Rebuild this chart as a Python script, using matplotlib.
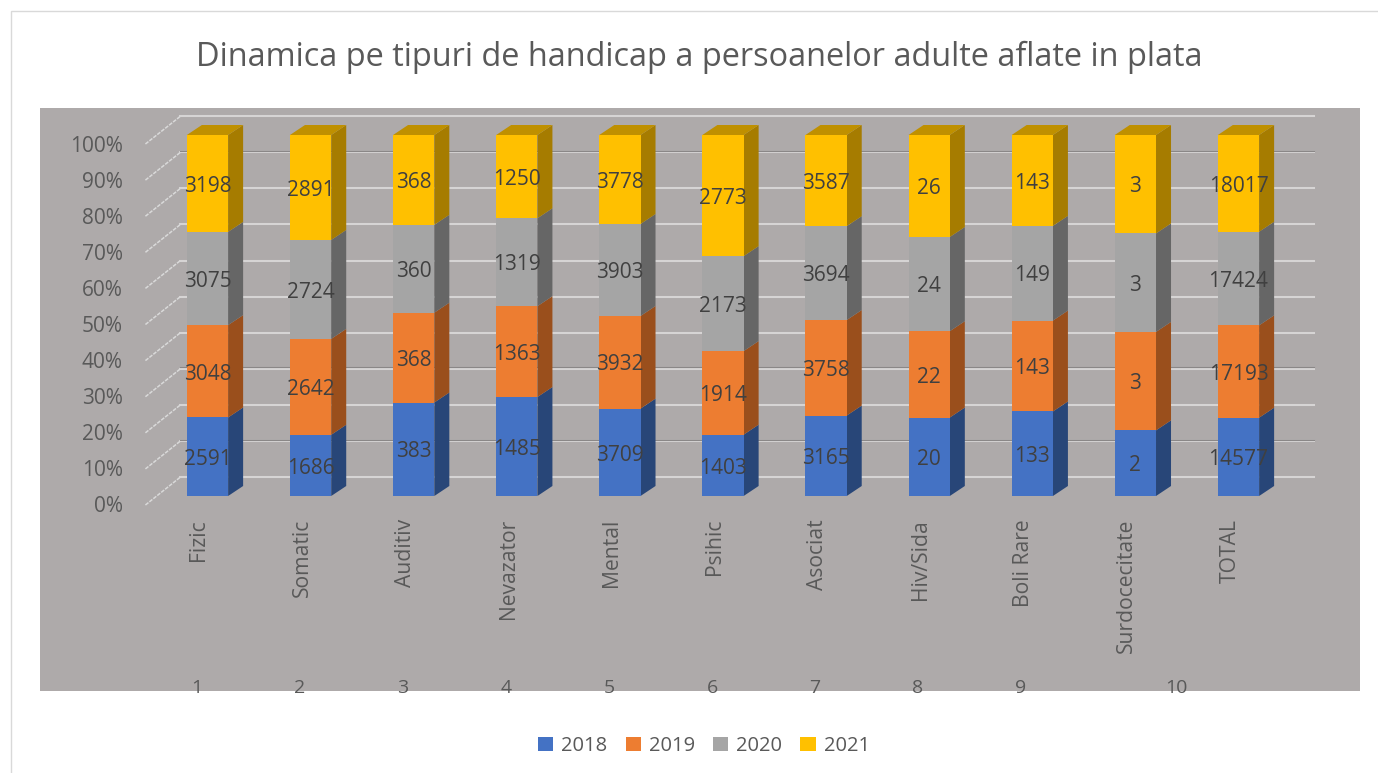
#!/usr/bin/env python3
# -*- coding: utf-8 -*-
import matplotlib
matplotlib.use("Agg")
import matplotlib.pyplot as plt
from matplotlib.patches import Polygon, Rectangle
import numpy as np

plt.rcParams["font.family"] = ["Open Sans", "DejaVu Sans"]

categorii = ["Fizic", "Somatic", "Auditiv", "Nevazator", "Mental", "Psihic",
             "Asociat", "Hiv/Sida", "Boli Rare", "Surdocecitate", "TOTAL"]
ani = ["2018", "2019", "2020", "2021"]
v2018 = [2591, 1686, 383, 1485, 3709, 1403, 3165, 20, 133, 2, 14577]
v2019 = [3048, 2642, 368, 1363, 3932, 1914, 3758, 22, 143, 3, 17193]
v2020 = [3075, 2724, 360, 1319, 3903, 2173, 3694, 24, 149, 3, 17424]
v2021 = [3198, 2891, 368, 1250, 3778, 2773, 3587, 26, 143, 3, 18017]
numere = ["1", "2", "3", "4", "5", "6", "7", "8", "9", "10"]
numere_x = [197, 300, 403, 506, 609, 712, 815, 918, 1021, 1176]
procente = list(range(0, 101, 10))
linii_inchise = [10, 30, 90]

culori = ["#4472C4", "#ED7D31", "#A5A5A5", "#FFC000"]
culori_lat = ["#284678", "#9A4F1C", "#666666", "#A67C00"]
culoare_sus = "#BF9000"
fundal = "#AEAAAA"
text_gri = "#595959"
W, H = 1378, 773

fig = plt.figure(figsize=(W / 100, H / 100), dpi=100, facecolor="white")
fig.add_artist(Rectangle((11 / W, -0.01), 1.1, 1 - 11 / H + 0.01, transform=fig.transFigure,
                         fc="none", ec="#D9D9D9", lw=1))

# zona graficului, x si y alese ca bara 0 sa pice la px 207.5 si 0% la px 496
ax = fig.add_axes([40 / W, 1 - 691 / H, 1320 / W, 583 / H], facecolor=fundal)
ax.set_xlim((40 - 207.5) / 103.1, (1360 - 207.5) / 103.1)
ax.set_ylim((496 - 691) / 3.61, (496 - 108) / 3.61)
for s in ax.spines.values():
    s.set_visible(False)
ax.set_xticks([])
ax.set_yticks([])

dx = 15 / 103.1   # adancimea barelor
dy = 10 / 3.61
lat = 0.2

# peretele din spate si podeaua
for p in procente:
    y = p + 19 / 3.61 - p * 0.0005
    ax.plot([-0.262, 10.73], [y, y], color="#D6D4D4", lw=1.5, zorder=1)
    if p in linii_inchise:
        ax.plot([-0.262, 10.73], [y + 0.35, y + 0.35], color="#8A8787", lw=0.8, zorder=1.1)
    ax.plot([-0.602, -0.262], [p - 9 / 3.61, y], color="#D9D9D9", lw=1.1, ls=(0, (2.5, 0.8)), zorder=1)

serii = np.array([v2018, v2019, v2020, v2021], dtype=float)
proc = serii / serii.sum(axis=0) * 100

x = np.arange(len(categorii))
jos = np.zeros(len(categorii))
for k in range(4):
    ax.bar(x, proc[k], 2 * lat, bottom=jos, color=culori[k], zorder=3, label=ani[k])
    for i in x:
        ax.add_patch(Polygon([(i + lat, jos[i]), (i + lat + dx, jos[i] + dy),
                              (i + lat + dx, jos[i] + proc[k][i] + dy), (i + lat, jos[i] + proc[k][i])],
                             fc=culori_lat[k], ec="none", zorder=2.5))
        ax.text(i, jos[i] + proc[k][i] / 2 - 0.75, f"{int(serii[k][i])}", ha="center", va="center",
                fontsize=15, color="#404040", zorder=5)
    jos = jos + proc[k]

for i in x:
    ax.add_patch(Polygon([(i - lat, 100), (i - lat + dx, 100 + dy), (i + lat + dx, 100 + dy), (i + lat, 100)],
                         fc=culoare_sus, ec="none", zorder=2.5))
    ax.annotate(categorii[i], xy=(i, 0), xytext=(-8.5, -23), textcoords="offset pixels",
                rotation=90, ha="center", va="top", fontsize=15.2, color=text_gri)

for p in procente:
    ax.annotate(f"{p}%", xy=(0, p), xytext=(-84.5, -11), textcoords="offset pixels",
                ha="right", va="center", fontsize=15, color=text_gri)

for n, px in zip(numere, numere_x):
    fig.text(px / W, 1 - 688 / H, n, ha="center", va="center", fontsize=14, color=text_gri)

fig.text(699 / W, 1 - 57 / H, "Dinamica pe tipuri de handicap a persoanelor adulte aflate in plata",
         ha="center", va="center", fontsize=23.4, color=text_gri)

h, l = ax.get_legend_handles_labels()
fig.legend(h, l, loc="center", bbox_to_anchor=(704 / W, 1 - 746 / H), ncols=4, frameon=False,
           fontsize=14.5, labelcolor=text_gri, handlelength=0.75, handleheight=0.75,
           handletextpad=0.4, columnspacing=0.9)

fig.savefig("out.png", dpi=100)
